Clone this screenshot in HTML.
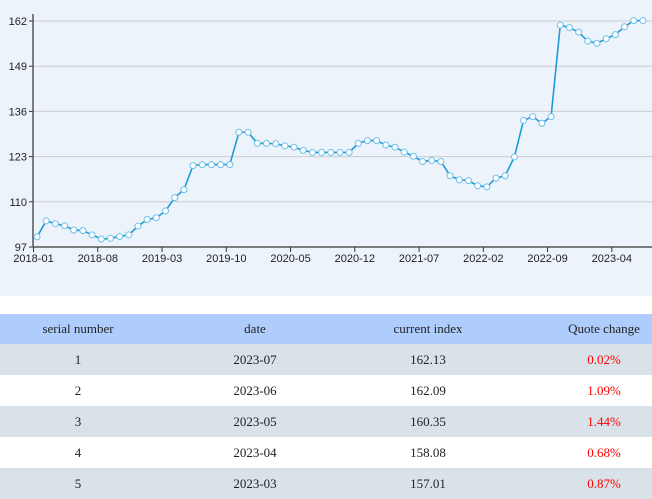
<!DOCTYPE html>
<html><head><meta charset="utf-8"><style>
body{margin:0;width:652px;height:497px;overflow:hidden;background:#fff;font-family:"Liberation Sans",sans-serif}
#chart{position:absolute;left:0;top:0;width:652px;height:296px;background:#edf3fa}
table{position:absolute;left:0;top:314px;width:652px;border-collapse:collapse;font-family:"Liberation Serif",serif;font-size:13px;color:#222;table-layout:fixed}
th{background:#aecdfd;font-weight:normal;height:30px;padding:0;line-height:30px}
td{height:31px;text-align:center;padding:0;line-height:31px}
th:nth-child(4),td:nth-child(4){padding-left:54px}
tr.g td{background:#d9e2e8}
.r{color:#f00}
</style></head><body>
<svg id="chart" width="652" height="296"></svg>
<table>
<colgroup><col style="width:156px"><col style="width:198px"><col style="width:148px"><col></colgroup>
<tr><th>serial number</th><th>date</th><th>current index</th><th>Quote change</th></tr>
<tr class="g"><td>1</td><td>2023-07</td><td>162.13</td><td class="r">0.02%</td></tr>
<tr><td>2</td><td>2023-06</td><td>162.09</td><td class="r">1.09%</td></tr>
<tr class="g"><td>3</td><td>2023-05</td><td>160.35</td><td class="r">1.44%</td></tr>
<tr><td>4</td><td>2023-04</td><td>158.08</td><td class="r">0.68%</td></tr>
<tr class="g"><td>5</td><td>2023-03</td><td>157.01</td><td class="r">0.87%</td></tr>
</table>
<script>
const values=[99.9,104.5,103.7,103.1,101.9,101.7,100.5,99.3,99.5,100.0,100.5,103.0,104.9,105.4,107.4,111.2,113.5,120.4,120.7,120.7,120.7,120.7,130.0,130.0,126.8,126.8,126.7,126.1,125.7,124.8,124.2,124.2,124.2,124.2,124.2,126.8,127.6,127.6,126.3,125.7,124.3,123.1,121.6,121.9,121.6,117.5,116.3,116.1,114.6,114.3,116.8,117.5,122.9,133.4,134.5,132.6,134.5,160.8,160.1,158.8,156.2,155.6,156.9,158.08,160.35,162.09,162.13];
const yTicks=[97,110,123,136,149,162];
const xTickLabels=["2018-01","2018-08","2019-03","2019-10","2020-05","2020-12","2021-07","2022-02","2022-09","2023-04"];
const startYear=2018,startMonth=1;
const NS="http://www.w3.org/2000/svg";
const svg=document.getElementById('chart');
const x0=33.5,step=9.18,ptOff=3.5;
function xTick(i){return x0+i*step;}
function xPt(i){return x0+ptOff+i*step;}
function y(v){return 247-(v-97)*(226/65);}
function mk(t,a,p){const e=document.createElementNS(NS,t);for(const k in a)e.setAttribute(k,a[k]);(p||svg).appendChild(e);return e;}
yTicks.forEach(v=>{
  const g=mk('line',{x1:33,x2:652,y1:y(v),y2:y(v),stroke:'#ccc','stroke-width':1});
  
  
  mk('line',{x1:29,x2:33,y1:y(v),y2:y(v),stroke:'#333'});
  const t=mk('text',{x:27,y:y(v)+4,'text-anchor':'end','font-size':11,fill:'#222'});
  t.textContent=v;
  
  
});
mk('line',{x1:33,x2:33,y1:14,y2:247,stroke:'#555','stroke-width':1.5});
mk('line',{x1:33,x2:652,y1:247,y2:247,stroke:'#555','stroke-width':1.5});
xTickLabels.forEach(l=>{
  const [yy,mm]=l.split('-').map(Number);
  const i=(yy-startYear)*12+(mm-startMonth);
  mk('line',{x1:xTick(i),x2:xTick(i),y1:247,y2:252,stroke:'#333'});
  const t=mk('text',{x:xTick(i),y:262,'text-anchor':'middle','font-size':11,fill:'#222'});
  t.textContent=l;
  
  
});
const line=mk('polyline',{points:values.map((v,i)=>xPt(i)+','+y(v)).join(' '),fill:'none',stroke:'#1e9bd7','stroke-width':1.6});


values.forEach((v,i)=>{
  const c=mk('circle',{cx:xPt(i),cy:y(v),r:3,fill:'#fff',stroke:'#6cc0ec','stroke-width':1});
  
  
});
</script>
</body></html>
